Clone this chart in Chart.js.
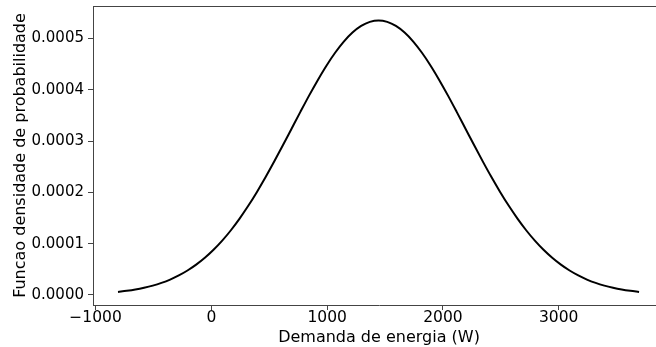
<!DOCTYPE html>
<html lang="pt">
<head>
  <meta charset="UTF-8">
  <script src="https://cdn.jsdelivr.net/npm/chart.js@4/dist/chart.umd.min.js"></script>
  <style>
    * { margin: 0; padding: 0; box-sizing: border-box; }
    html, body { width: 656px; height: 347px; overflow: hidden; background: #fff; }
    #wrap { width: 670px; height: 347px; }
  </style>
  <title>Funcao densidade de probabilidade</title>
</head>
<body>
  <div id="wrap"><canvas id="myChart" width="670" height="347"></canvas></div>

<script>
  // demand (W) and density
  var demanda = [-806, -731, -656, -581, -506, -431, -356, -281, -206, -131,
    -56, 19, 94, 169, 244, 319, 394, 469, 544, 619,
    694, 769, 844, 919, 994, 1069, 1144, 1219, 1294, 1369,
    1444, 1519, 1594, 1669, 1744, 1819, 1894, 1969, 2044, 2119,
    2194, 2269, 2344, 2419, 2494, 2569, 2644, 2719, 2794, 2869,
    2944, 3019, 3094, 3169, 3244, 3319, 3394, 3469, 3544, 3619, 3694];

  var densidade = [0.0000059, 0.0000080, 0.0000106, 0.0000140, 0.0000182, 0.0000235, 0.0000300, 0.0000380, 0.0000476, 0.0000590,
    0.0000724, 0.0000880, 0.0001059, 0.0001261, 0.0001488, 0.0001737, 0.0002008, 0.0002298, 0.0002604, 0.0002921,
    0.0003245, 0.0003568, 0.0003885, 0.0004187, 0.0004469, 0.0004721, 0.0004939, 0.0005115, 0.0005244, 0.0005323,
    0.0005350, 0.0005323, 0.0005244, 0.0005115, 0.0004939, 0.0004721, 0.0004469, 0.0004187, 0.0003885, 0.0003568,
    0.0003245, 0.0002921, 0.0002604, 0.0002298, 0.0002008, 0.0001737, 0.0001488, 0.0001261, 0.0001059, 0.0000880,
    0.0000724, 0.0000590, 0.0000476, 0.0000380, 0.0000300, 0.0000235, 0.0000182, 0.0000140, 0.0000106, 0.0000080, 0.0000059];

  var xTicks = [-1000, 0, 1000, 2000, 3000];
  var yTicks = [0, 0.0001, 0.0002, 0.0003, 0.0004, 0.0005];

  var pontos = demanda.map(function (d, i) { return { x: d, y: densidade[i] }; });

  var fonte = "'DejaVu Sans', sans-serif";
  var spine = '#444';

  // top frame line (matplotlib spine), no right spine since figure is cut
  var topSpine = {
    id: 'topSpine',
    afterDraw: function (chart) {
      var a = chart.chartArea, ctx = chart.ctx;
      ctx.save();
      ctx.strokeStyle = spine;
      ctx.lineWidth = 1;
      ctx.beginPath();
      ctx.moveTo(a.left, a.top + 0.5);
      ctx.lineTo(a.right, a.top + 0.5);
      ctx.stroke();
      ctx.restore();
    }
  };

  var myChart = new Chart('myChart', {
    type: 'line',
    data: {
      datasets: [{
        data: pontos,
        borderColor: '#000',
        borderWidth: 2,
        pointRadius: 0,
        fill: false,
        cubicInterpolationMode: 'monotone'
      }]
    },
    options: {
      responsive: false,
      animation: false,
      devicePixelRatio: 1,
      layout: { padding: { left: 11, right: 5, top: 6, bottom: 0 } },
      plugins: { legend: { display: false }, tooltip: { enabled: false } },
      scales: {
        x: {
          type: 'linear',
          min: -1022,
          max: 3918,
          afterBuildTicks: function (s) { s.ticks = xTicks.map(function (v) { return { value: v }; }); },
          afterFit: function (s) { s.height = 42; s.paddingLeft = 0; s.paddingRight = 0; },
          grid: { display: true, drawOnChartArea: false, drawTicks: true, tickLength: 5, color: spine },
          border: { display: true, color: spine, width: 1 },
          ticks: {
            color: '#000', padding: -1, maxRotation: 0,
            font: { family: fonte, size: 15.5 },
            callback: function (v) { return v < 0 ? '\u2212' + Math.abs(v) : String(v); }
          },
          title: {
            display: true, text: 'Demanda de energia (W)', color: '#000',
            font: { family: fonte, size: 16 }, padding: { top: 0, bottom: 0 }
          }
        },
        y: {
          min: -0.0000196,
          max: 0.0005632,
          afterBuildTicks: function (s) { s.ticks = yTicks.map(function (v) { return { value: v }; }); },
          afterFit: function (s) { s.width = 82; s.paddingTop = 0; s.paddingBottom = 0; },
          grid: { display: true, drawOnChartArea: false, drawTicks: true, tickLength: 5, color: spine },
          border: { display: true, color: spine, width: 1 },
          ticks: {
            color: '#000', padding: 4,
            font: { family: fonte, size: 15 },
            callback: function (v) { return v.toFixed(4); }
          },
          title: {
            display: true, text: 'Funcao densidade de probabilidade', color: '#000',
            font: { family: fonte, size: 16 }, padding: { top: 0, bottom: 0 }
          }
        }
      }
    },
    plugins: [topSpine]
  });
</script>
</body>
</html>
